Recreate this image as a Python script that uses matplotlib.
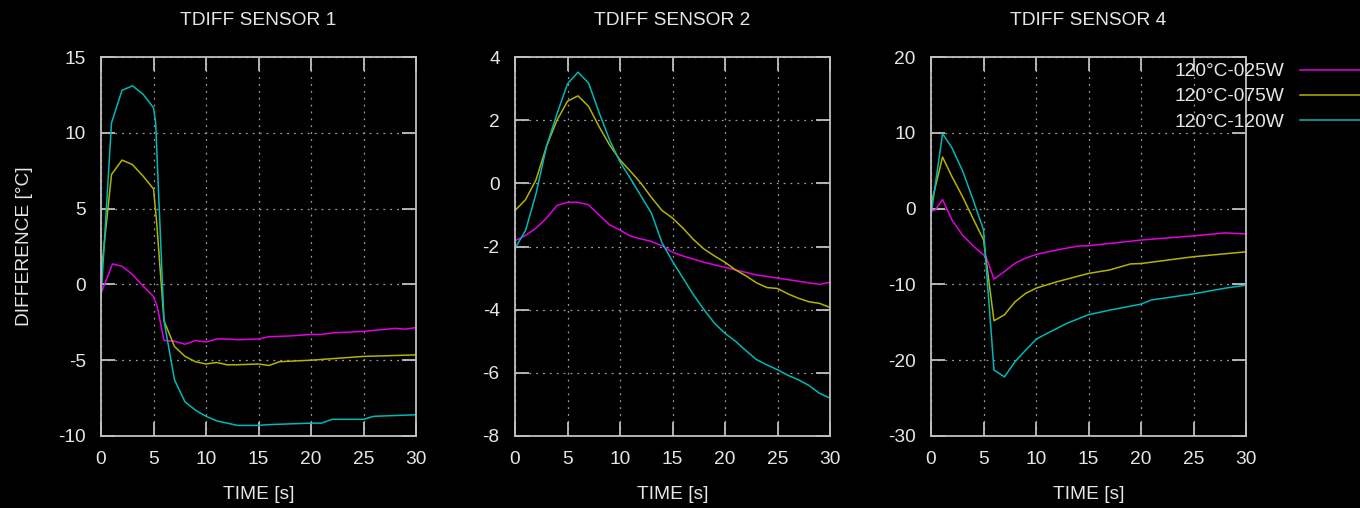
import matplotlib
matplotlib.use("Agg")
import matplotlib.pyplot as plt

plt.rcParams['font.family'] = ['Liberation Sans', 'DejaVu Sans']
plt.rcParams['axes.unicode_minus'] = False

titles = ["TDIFF SENSOR 1", "TDIFF SENSOR 2", "TDIFF SENSOR 4"]
labels = ["120°C-025W", "120°C-075W", "120°C-120W"]
colors = ["#e000e0", "#b4b400", "#00b8b8"]

# ---- Sensor 1 ----
s1_t_025 = [0, 1.1, 2, 3, 4, 5, 5.35, 6, 7, 8, 9, 10, 11, 12, 13, 15, 16, 18, 20, 21, 22, 25, 28, 29, 30]
s1_v_025 = [-0.6, 1.35, 1.2, 0.65, -0.1, -0.8, -1.45, -3.7, -3.75, -3.95, -3.7, -3.8, -3.6, -3.6, -3.65, -3.6, -3.45, -3.4, -3.3, -3.3, -3.2, -3.1, -2.9, -2.95, -2.85]
s1_t_075 = [0, 1, 2, 3, 4, 5, 5.3, 6, 7, 8, 9, 10, 11, 12, 13, 15, 16, 17, 20, 22, 25, 30]
s1_v_075 = [0.6, 7.25, 8.2, 7.9, 7.15, 6.3, 4.1, -2.4, -4.1, -4.75, -5.1, -5.25, -5.15, -5.3, -5.3, -5.25, -5.35, -5.1, -5.0, -4.9, -4.75, -4.65]
s1_t_120 = [0, 1, 2, 3, 4, 5, 5.2, 6, 7, 8, 9, 10, 11, 13, 15, 16, 20, 21, 22, 25, 26, 30]
s1_v_120 = [-0.9, 10.65, 12.8, 13.1, 12.55, 11.65, 10.7, -2.4, -6.3, -7.75, -8.3, -8.7, -9.0, -9.3, -9.3, -9.25, -9.15, -9.15, -8.9, -8.9, -8.7, -8.6]

# ---- Sensor 2 ----
s2_t = list(range(0, 31))
s2_v_025 = [-1.82, -1.65, -1.42, -1.1, -0.7, -0.6, -0.6, -0.68, -1.0, -1.31, -1.48, -1.67, -1.76, -1.84, -1.98,
            -2.18, -2.3, -2.4, -2.5, -2.58, -2.66, -2.74, -2.82, -2.9, -2.95, -3.0, -3.05, -3.1, -3.15, -3.2, -3.13]
s2_v_075 = [-0.86, -0.52, 0.11, 1.17, 2.0, 2.6, 2.77, 2.44, 1.8, 1.22, 0.74, 0.38, 0.0, -0.45, -0.86,
            -1.1, -1.42, -1.78, -2.08, -2.3, -2.5, -2.74, -2.93, -3.15, -3.3, -3.33, -3.5, -3.64, -3.75, -3.8, -3.93]
s2_v_120 = [-2.05, -1.5, -0.33, 1.17, 2.2, 3.15, 3.52, 3.18, 2.25, 1.38, 0.68, 0.15, -0.4, -0.95, -1.88,
            -2.47, -3.0, -3.53, -4.0, -4.43, -4.75, -5.0, -5.3, -5.58, -5.75, -5.9, -6.08, -6.22, -6.4, -6.65, -6.8]

# ---- Sensor 4 ----
s4_t_025 = [0, 0.4, 1.1, 2, 3, 4, 5, 5.25, 6, 7, 8, 9, 10, 12, 14, 15, 17, 20, 25, 28, 30]
s4_v_025 = [-0.3, -0.2, 1.2, -1.5, -3.5, -4.9, -6.1, -6.4, -9.3, -8.3, -7.2, -6.55, -6.05, -5.45, -4.95, -4.9, -4.6, -4.15, -3.6, -3.2, -3.35]
s4_t_075 = [0, 1.1, 2, 3, 4, 5, 6, 7, 8, 9, 10, 12, 15, 17, 19, 20, 25, 30]
s4_v_075 = [0.5, 6.8, 4.2, 1.6, -1.3, -4.1, -14.8, -14.0, -12.3, -11.2, -10.5, -9.65, -8.55, -8.1, -7.3, -7.25, -6.35, -5.7]
s4_t_120 = [0, 1.1, 2, 3, 4, 5, 6, 7, 8, 9, 10, 11, 12, 13, 15, 17, 20, 21, 25, 28, 30]
s4_v_120 = [-0.85, 9.9, 8.0, 5.0, 1.2, -2.8, -21.3, -22.2, -20.2, -18.7, -17.25, -16.5, -15.8, -15.1, -14.0, -13.4, -12.6, -12.05, -11.25, -10.5, -10.1]

panels = [
    [(s1_t_025, s1_v_025), (s1_t_075, s1_v_075), (s1_t_120, s1_v_120)],
    [(s2_t, s2_v_025), (s2_t, s2_v_075), (s2_t, s2_v_120)],
    [(s4_t_025, s4_v_025), (s4_t_075, s4_v_075), (s4_t_120, s4_v_120)],
]
ylims = [(-10, 15), (-8, 4), (-30, 20)]
yticks = [list(range(-10, 16, 5)), list(range(-8, 5, 2)), list(range(-30, 21, 10))]
xticks = list(range(0, 31, 5))

fs = 13.8
fig = plt.figure(figsize=(13.6, 5.08), dpi=100, facecolor="black")
lefts = [101, 515, 931]
txt = "#e6e6e6"
axcol = "#c0c0c0"
for i, L in enumerate(lefts):
    ax = fig.add_axes([L / 1360, 72 / 508, 315 / 1360, 379 / 508], facecolor="black")
    for j, (t, v) in enumerate(panels[i]):
        ax.plot(t, v, color=colors[j], lw=1.1, label=labels[j])
    ax.set_xlim(0, 30)
    ax.set_ylim(*ylims[i])
    ax.set_xticks(xticks)
    ax.set_yticks(yticks[i])
    ax.grid(True, color="#9a9a9a", linestyle=(0, (1.5, 4)), linewidth=0.9)
    ax.tick_params(direction="in", length=10, width=1.3, color=axcol,
                   top=True, right=True, labelsize=fs, labelcolor=txt)
    ax.tick_params(axis="y", pad=11)
    ax.tick_params(axis="x", pad=11)
    for sp in ax.spines.values():
        sp.set_color(axcol)
        sp.set_linewidth(1.3)
    ax.set_title(titles[i], color=txt, fontsize=fs, pad=23)
    ax.set_xlabel("TIME [s]", color=txt, fontsize=fs)
    ax.xaxis.set_label_coords(0.5, -0.132)
    if i == 0:
        ax.set_ylabel("DIFFERENCE [°C]", color=txt, fontsize=fs)
        ax.yaxis.set_label_coords(-0.215, 0.5)
    if i == 2:
        leg = ax.legend(loc="upper left", bbox_to_anchor=(1175 / 1360, 1 - 63 / 508),
                        bbox_transform=fig.transFigure, frameon=False, markerfirst=False,
                        fontsize=fs, handlelength=4.5, handletextpad=0.78,
                        labelspacing=0.4, borderpad=0, borderaxespad=0)
        for tx in leg.get_texts():
            tx.set_color(txt)
        for ln in leg.get_lines():
            ln.set_linewidth(1.1)

fig.savefig("out.png", dpi=100, facecolor="black")
